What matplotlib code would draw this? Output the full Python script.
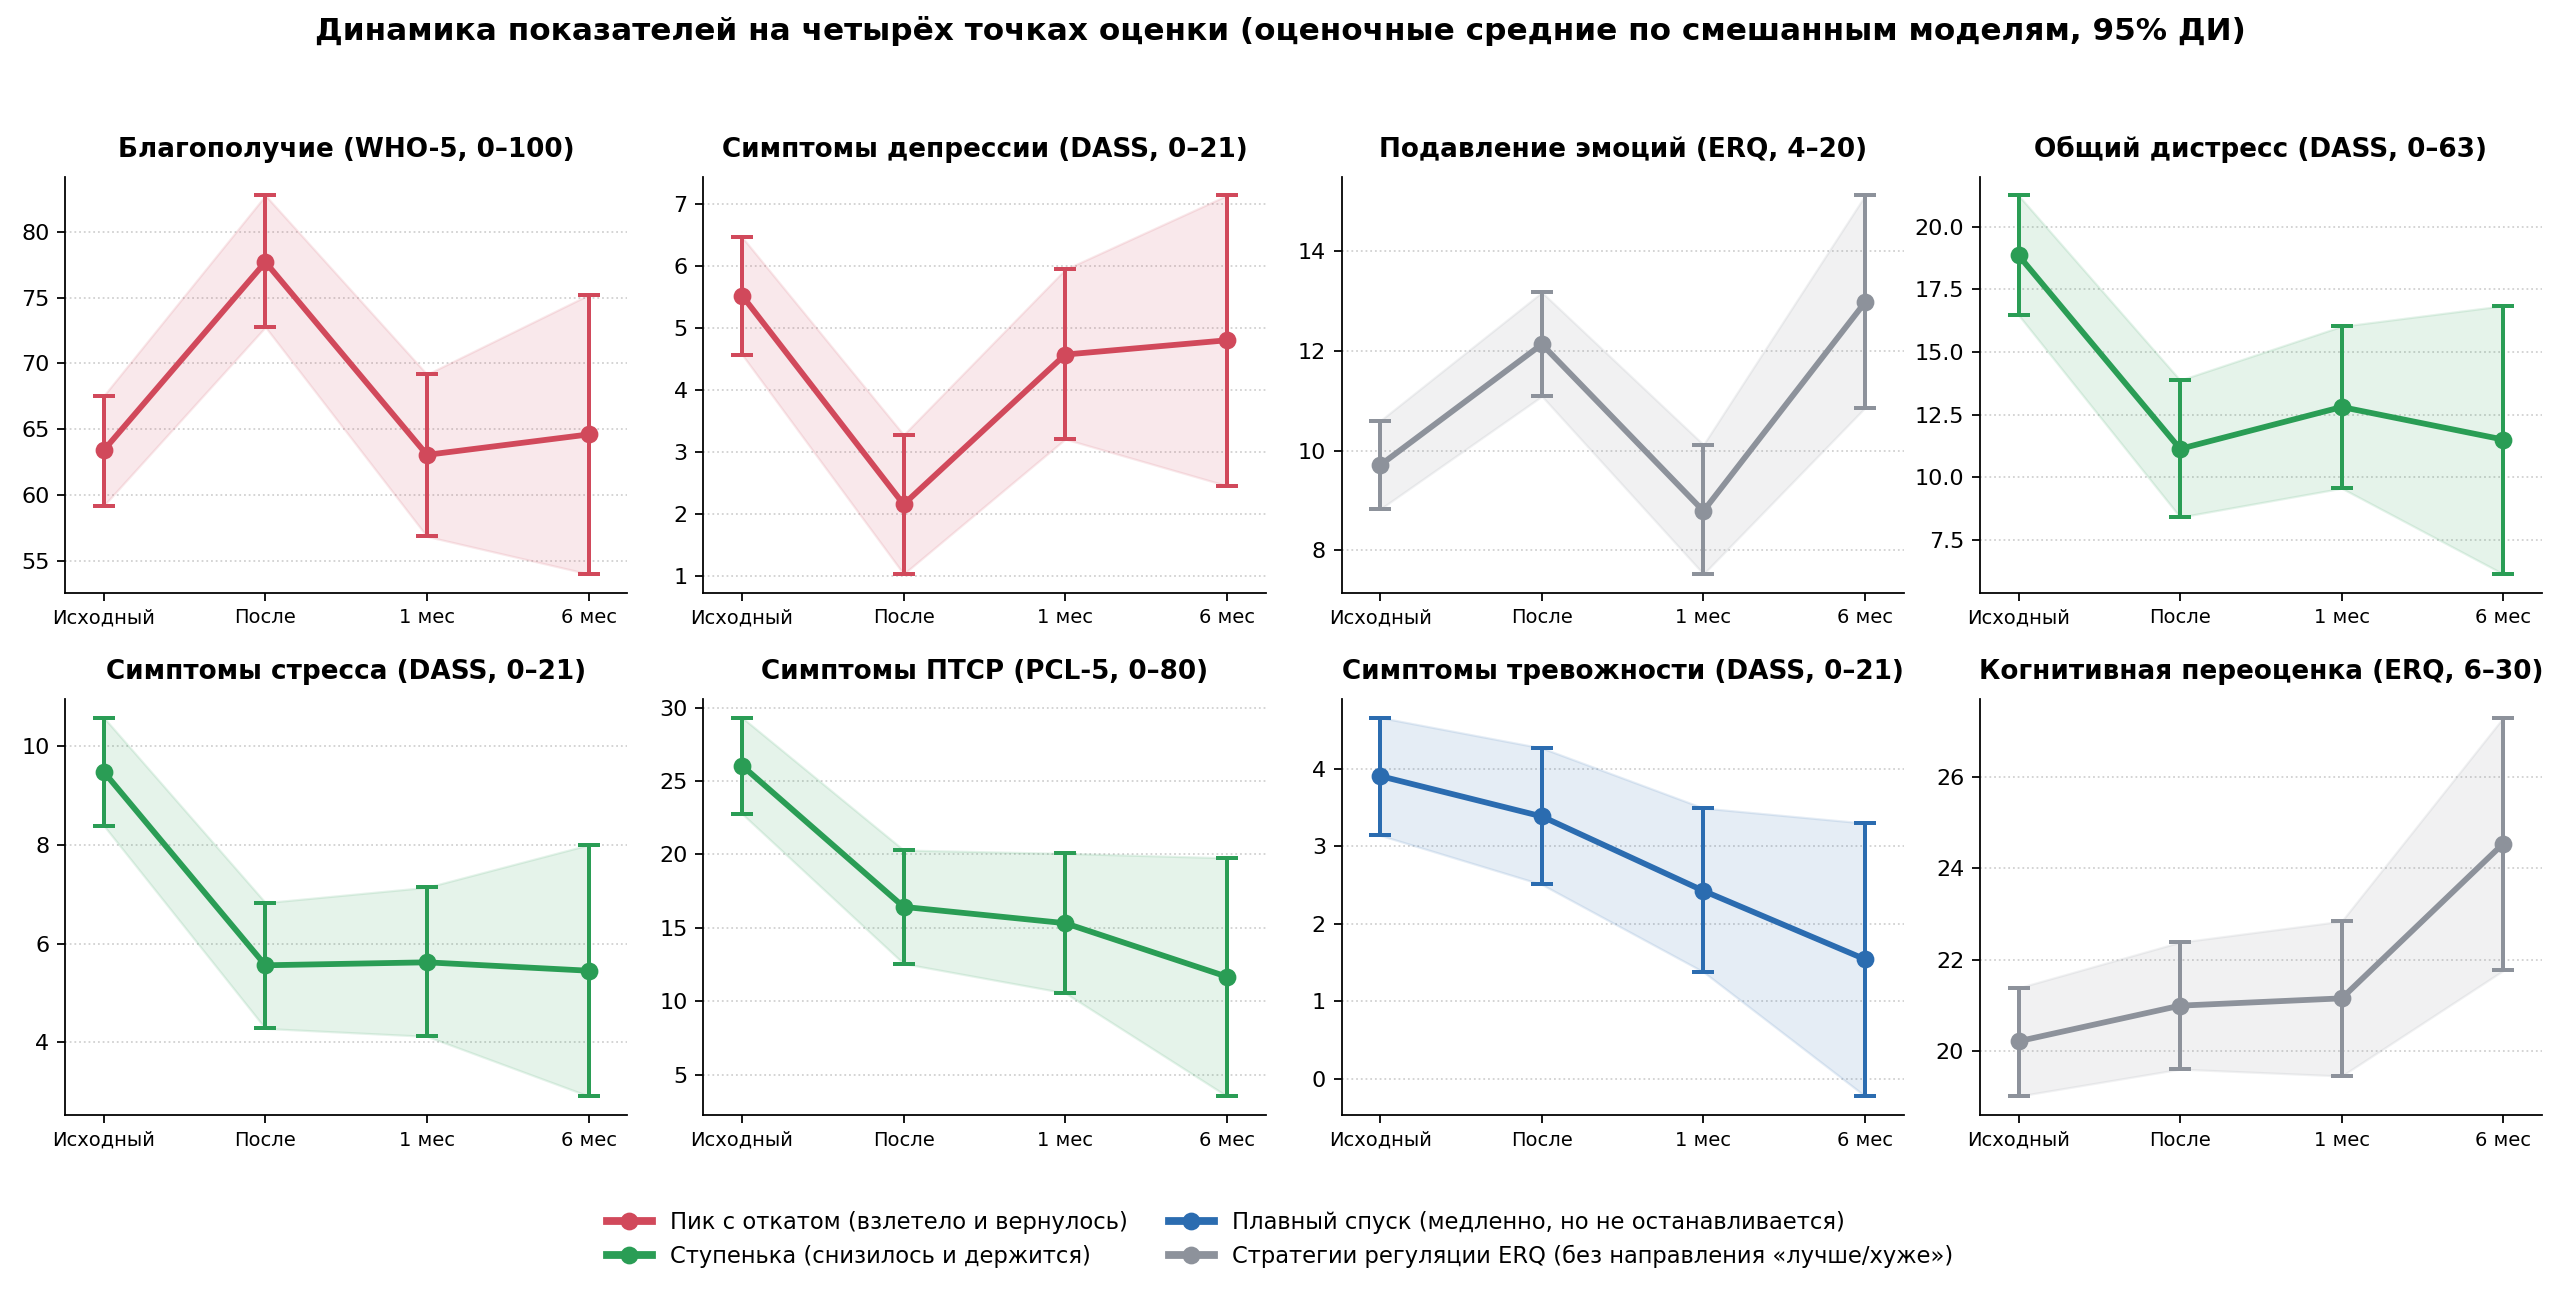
import numpy as np
import matplotlib
matplotlib.use("Agg")
import matplotlib.pyplot as plt
from matplotlib.lines import Line2D
from matplotlib.ticker import MaxNLocator

plt.rcParams['font.family'] = ['DejaVu Sans']

# Time points
timepoints = ["Исходный", "После", "1 мес", "6 мес"]

# Panel titles (row-major order)
titles = [
    "Благополучие (WHO-5, 0–100)",
    "Симптомы депрессии (DASS, 0–21)",
    "Подавление эмоций (ERQ, 4–20)",
    "Общий дистресс (DASS, 0–63)",
    "Симптомы стресса (DASS, 0–21)",
    "Симптомы ПТСР (PCL-5, 0–80)",
    "Симптомы тревожности (DASS, 0–21)",
    "Когнитивная переоценка (ERQ, 6–30)",
]

# Pattern group for each panel
groups = ["peak", "peak", "erq", "step", "step", "step", "slide", "erq"]

# Estimated means and 95% CI bounds
means = [
    [63.4, 77.7, 63.05, 64.6],
    [5.52, 2.16, 4.57, 4.80],
    [9.71, 12.13, 8.79, 12.97],
    [18.86, 11.14, 12.81, 11.51],
    [9.48, 5.56, 5.62, 5.45],
    [26.05, 16.43, 15.32, 11.68],
    [3.905, 3.384, 2.424, 1.541],
    [20.21, 20.99, 21.15, 24.54],
]
ci_low = [
    [59.2, 72.76, 56.85, 54.0],
    [4.57, 1.04, 3.21, 2.46],
    [8.83, 11.09, 7.53, 10.86],
    [16.48, 8.42, 9.57, 6.15],
    [8.39, 4.28, 4.12, 2.91],
    [22.77, 12.57, 10.57, 3.55],
    [3.14, 2.506, 1.378, -0.224],
    [19.01, 19.60, 19.45, 21.76],
]
ci_high = [
    [67.55, 82.76, 69.17, 75.2],
    [6.46, 3.28, 5.94, 7.13],
    [10.6, 13.17, 10.12, 15.11],
    [21.25, 13.88, 16.03, 16.85],
    [10.58, 6.83, 7.14, 8.0],
    [29.32, 20.3, 20.07, 19.77],
    [4.66, 4.267, 3.492, 3.298],
    [21.38, 22.38, 22.84, 27.30],
]

group_colors = {
    "peak": "#d1495b",
    "step": "#2a9d55",
    "slide": "#2b6cb0",
    "erq": "#8d929b",
}
group_labels = {
    "peak": "Пик с откатом (взлетело и вернулось)",
    "step": "Ступенька (снизилось и держится)",
    "slide": "Плавный спуск (медленно, но не останавливается)",
    "erq": "Стратегии регуляции ERQ (без направления «лучше/хуже»)",
}

fig, axes = plt.subplots(2, 4, figsize=(16, 8.1125), dpi=160)
fig.subplots_adjust(left=0.0254, right=0.993, top=0.864, bottom=0.141,
                    wspace=0.135, hspace=0.254)

x = np.arange(len(timepoints))
for i, ax in enumerate(axes.flat):
    color = group_colors[groups[i]]
    m = np.array(means[i])
    lo = np.array(ci_low[i])
    hi = np.array(ci_high[i])
    ax.fill_between(x, lo, hi, color=color, alpha=0.12, linewidth=1)
    ax.errorbar(x, m, yerr=[m - lo, hi - m], fmt="none", ecolor=color,
                elinewidth=1.8, capsize=5, capthick=1.8)
    ax.plot(x, m, color=color, linewidth=2.6, marker="o", markersize=7)
    ax.set_title(titles[i], fontsize=11.8, fontweight="bold", pad=9)
    ax.set_xticks(x)
    ax.set_xticklabels(timepoints, fontsize=8.8)
    ax.yaxis.set_major_locator(MaxNLocator(nbins=7, steps=[1, 2, 2.5, 5, 10]))
    ax.tick_params(axis="y", labelsize=10)
    ax.set_xlim(-0.24, 3.24)
    ax.grid(axis="y", linestyle=":", color="#d0d0d0", linewidth=0.8)
    ax.set_axisbelow(True)
    ax.spines["top"].set_visible(False)
    ax.spines["right"].set_visible(False)

fig.suptitle("Динамика показателей на четырёх точках оценки "
             "(оценочные средние по смешанным моделям, 95% ДИ)",
             fontsize=14, fontweight="bold", y=0.988)

order = ["peak", "step", "slide", "erq"]
handles = [Line2D([0], [0], color=group_colors[g], linewidth=3.5,
                  marker="o", markersize=7) for g in order]
fig.legend(handles, [group_labels[g] for g in order], loc="center",
           bbox_to_anchor=(0.5, 0.045), ncol=2, frameon=False, fontsize=10.2,
           columnspacing=1.8)

fig.savefig("out.png", dpi=160)
